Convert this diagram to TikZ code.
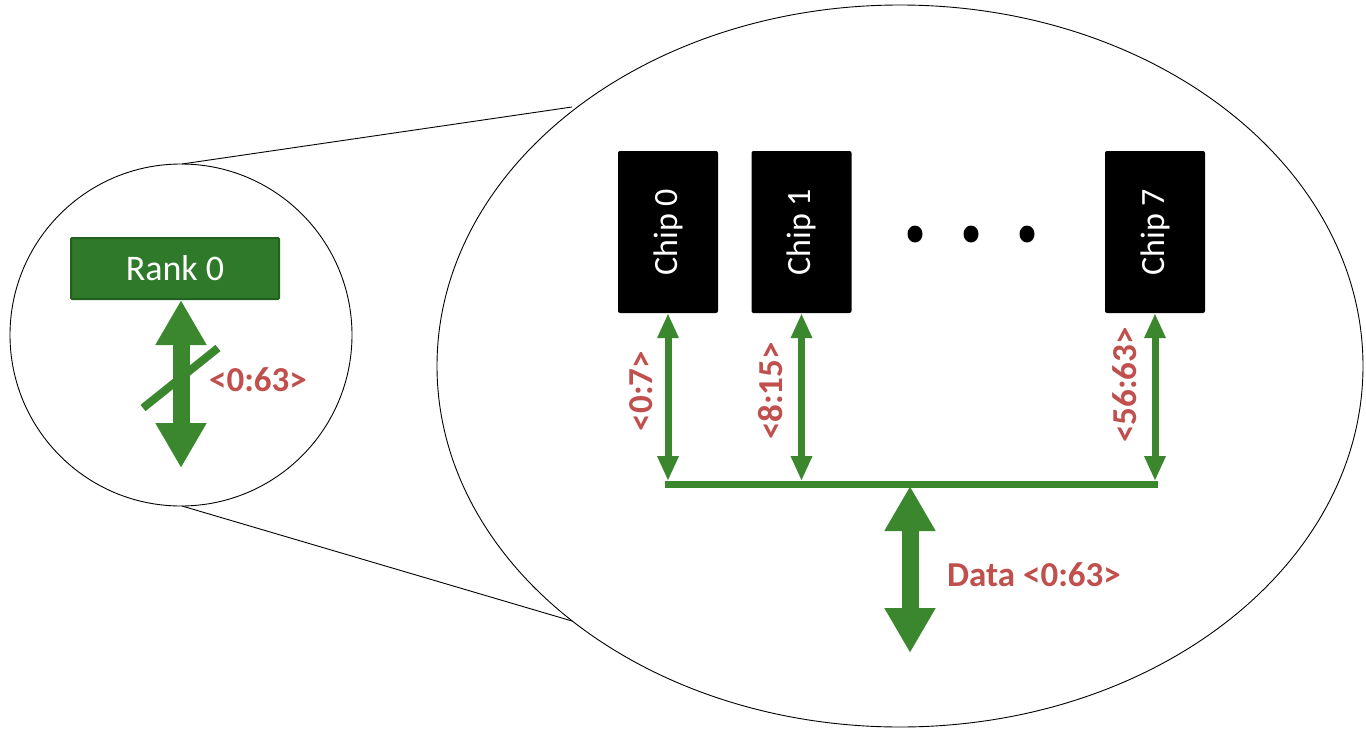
\documentclass[tikz,border=0pt]{standalone}
\usepackage{fontspec}
\setmainfont{Carlito}
\usepackage{graphicx}
\usetikzlibrary{arrows.meta}
\definecolor{agreen}{RGB}{58,135,46}
\definecolor{boxgreen}{RGB}{47,122,42}
\definecolor{boxedge}{RGB}{34,96,32}
\definecolor{lblred}{RGB}{192,80,77}
\begin{document}
\begin{tikzpicture}[x=1pt,y=-1pt,
  bigarrow/.style={draw=agreen, line width=17pt, {Triangle[width=48pt,length=45pt]}-{Triangle[width=48pt,length=45pt]}},
  smallarrow/.style={draw=agreen, line width=7pt, {Triangle[width=20pt,length=25pt]}-{Triangle[width=20pt,length=25pt]}},
  chipbox/.style={fill=black, rounded corners=2pt, minimum width=100pt, minimum height=162pt, text=white, font=\fontsize{34}{40}\selectfont, inner sep=0pt},
  rankbox/.style={fill=boxgreen, draw=boxedge, line width=2pt, rounded corners=1pt, minimum width=208pt, minimum height=61pt, text=white, font=\fontsize{36}{40}\selectfont, inner sep=0pt},
  lbl/.style={text=lblred, font=\fontsize{35}{40}\selectfont\bfseries, inner sep=0pt},
  outline/.style={draw=black, line width=0.9pt}
]
\useasboundingbox (0,0) rectangle (1366,731);
\fill[white] (0,0) rectangle (1366,731);

% outlines
\draw[outline] (181,335) circle [radius=171pt];
\draw[outline] (900,366) ellipse [x radius=463pt, y radius=361pt];
\draw[outline] (182,164) -- (572,107);
\draw[outline] (182,506) -- (572,621);

% left: rank
\node[rankbox] (rank) at (175,268.5) {Rank 0};
\coordinate (rankend) at (181,468);
\draw[bigarrow] ([xshift=6pt]rank.south) -- (rankend);
\draw[agreen, line width=8pt] (143,408) -- (218,348);
\node[lbl] (ranklbl) at (258,380) {<0:63>};

% chips
\node[chipbox] (c0) at (668,232) {\rotatebox{90}{Chip 0}};
\node[chipbox] (c1) at (801.5,232) {\rotatebox{90}{Chip 1}};
\node[chipbox] (c7) at (1155,232) {\rotatebox{90}{Chip 7}};

% dots
\fill (915,234) ellipse [x radius=7.5pt, y radius=8.5pt];
\fill (971,234) ellipse [x radius=7.5pt, y radius=8.5pt];
\fill (1027,234) ellipse [x radius=7.5pt, y radius=8.5pt];

% bus
\coordinate (b0) at (668,481);
\coordinate (b1) at (801.5,481);
\coordinate (b7) at (1155,481);
\coordinate (bus0) at (665,484);
\coordinate (bus7) at (1158,484);
\draw[agreen, line width=7pt] (bus0) -- (bus7);
\draw[smallarrow] (c0.south) -- (b0);
\draw[smallarrow] (c1.south) -- (b1);
\draw[smallarrow] (c7.south) -- (b7);

\node[lbl, rotate=90] (l0) at (641,391) {<0:7>};
\node[lbl, rotate=90] (l1) at (771,391) {<8:15>};
\node[lbl, rotate=90] (l7) at (1125,385) {<56:63>};

% data arrow
\coordinate (d0) at (910,486);
\coordinate (d1) at (910,653);
\draw[bigarrow] (d0) -- (d1);
\node[lbl] (datalbl) at (1034,575) {Data <0:63>};
\end{tikzpicture}
\end{document}
